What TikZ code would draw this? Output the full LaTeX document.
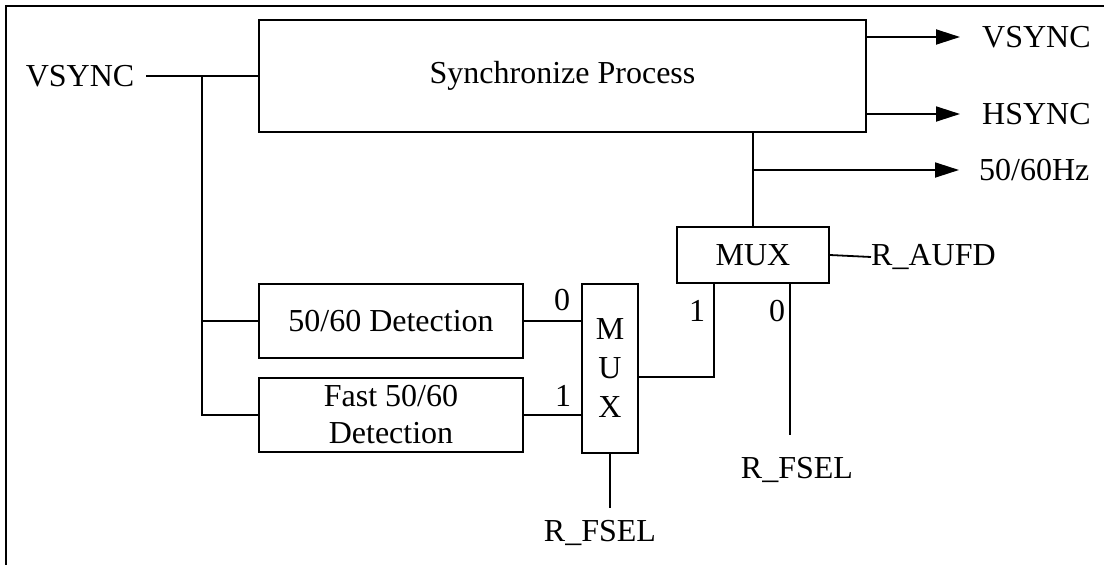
\documentclass[tikz,border=0pt]{standalone}
\usepackage{fontspec}
\setmainfont{Liberation Serif}
\usetikzlibrary{arrows.meta}
\begin{document}
\begin{tikzpicture}[x=1pt,y=-1pt,
  wire/.style={line width=1.8pt},
  blk/.style={draw,line width=1.8pt,inner sep=0pt,align=center,font=\fontsize{32}{37}\selectfont},
  lbl/.style={inner sep=0pt,font=\fontsize{32}{37}\selectfont},
  arr/.style={wire,-{Triangle[length=24pt,width=15pt]}}]
\useasboundingbox (0,0) rectangle (1104,565);
\draw[line width=2.4pt] (6,565) -- (6,6) -- (1104,6);

% blocks
\node[blk,minimum width=607pt,minimum height=112pt] (sync) at (562.5,76) {Synchronize Process\rule[-4pt]{0pt}{4pt}};
\node[blk,minimum width=264pt,minimum height=74pt] (det) at (391,321) {50/60 Detection};
\node[blk,minimum width=264pt,minimum height=74pt] (fast) at (391,415) {Fast 50/60\\Detection};
\node[blk,minimum width=56pt,minimum height=169pt,font=\fontsize{32}{39}\selectfont] (mux1) at (610,368.5) {M\\U\\X};
\node[blk,minimum width=152pt,minimum height=56pt] (mux2) at (753,255) {MUX};

% labels
\node[lbl] (vin) at (80,76) {VSYNC};
\node[lbl,anchor=west] (vout) at (982,37) {VSYNC};
\node[lbl,anchor=west] (hout) at (982,114) {HSYNC};
\node[lbl,anchor=west] (hz) at (979,170) {50/60Hz};
\node[lbl,anchor=west] (aufd) at (871,257) {R\_AUFD};
\node[lbl] (fsel1) at (600,533) {R\_FSEL};
\node[lbl] (fsel2) at (797,470) {R\_FSEL};
\node[lbl] (in0) at (562,300) {0};
\node[lbl] (in1) at (563,396) {1};
\node[lbl] (m2in1) at (697,311) {1};
\node[lbl] (m2in0) at (777,311) {0};

% coordinates
\coordinate (j) at (202,76);
\coordinate (m1out) at (638,377);
\coordinate (m2a) at (714,283);
\coordinate (m2b) at (790,283);
\coordinate (m2bend) at (790,435);
\coordinate (m1sel) at (610,508);
\coordinate (hzj) at (753,170);

% connectors
\draw[wire] ([xshift=12pt]vin.east) -- (sync.west);
\draw[wire] (j) |- (det.west);
\draw[wire] (j) |- (fast.west);
\draw[wire] (det.east) -- (det.east -| mux1.west);
\draw[wire] (fast.east) -- (fast.east -| mux1.west);
\draw[wire] (m1out) -| (m2a);
\draw[wire] (m2b) -- (m2bend);
\draw[wire] (mux1.south) -- (m1sel);
\draw[wire] (mux2.east) -- (aufd.west);
\draw[wire] (mux2.north) -- (mux2.north |- sync.south);
\draw[arr] (hzj) -- ([xshift=-20pt]hz.west);
\draw[arr] (sync.east |- vout.west) -- ([xshift=-22pt]vout.west);
\draw[arr] (sync.east |- hout.west) -- ([xshift=-22pt]hout.west);
\end{tikzpicture}
\end{document}
